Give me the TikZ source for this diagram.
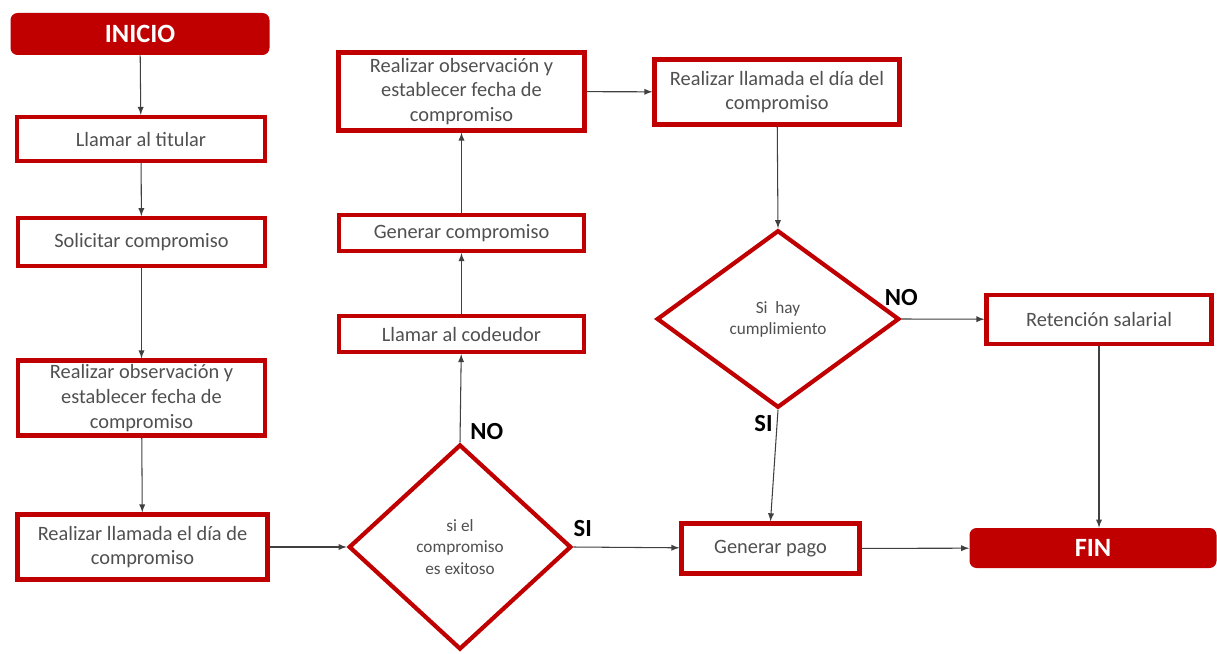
\documentclass[tikz,border=0pt]{standalone}
\usepackage{fontspec}
\setmainfont{Carlito}
\usepackage{tikz}
\usetikzlibrary{shapes,arrows,positioning,calc}
\definecolor{rojo}{RGB}{192,0,0}
\definecolor{gristxt}{RGB}{80,80,80}

\begin{document}
\begin{tikzpicture}[
  paso/.style={draw=rojo, line width=2.4pt, fill=white, text=gristxt,
             align=center, inner sep=2pt, font=\fontsize{11.6}{14}\selectfont},
  term/.style={fill=rojo, rounded corners=4pt, text=white,
             font=\fontsize{15}{17}\selectfont\bfseries},
  decision/.style={diamond, draw=rojo, line width=2.4pt, fill=white, text=gristxt,
             align=center, inner sep=0pt, font=\fontsize{9.8}{12}\selectfont},
  lbl/.style={font=\fontsize{14}{16}\selectfont\bfseries, inner sep=0pt},
  flecha/.style={-latex, black!75, line width=0.6pt}
]

% Margins
\useasboundingbox (0,0) rectangle (24.34,-13.08);

% ======= Columna izquierda =======
\node[term, minimum width=5.18cm, minimum height=0.84cm] (inicio) at (2.80,-0.68) {INICIO};
\node[paso, minimum width=4.95cm, minimum height=0.88cm] (titular) at (2.82,-2.78) {Llamar al titular};
\node[paso, minimum width=4.95cm, minimum height=0.95cm] (solicitar) at (2.83,-4.84) {Solicitar compromiso};
\node[paso, minimum width=4.95cm, minimum height=1.5cm] (obs1) at (2.83,-7.96)
  {Realizar observación y\\establecer fecha de\\compromiso};
\node[paso, minimum width=5.0cm, minimum height=1.3cm] (llamada1) at (2.85,-10.94)
  {Realizar llamada el día de\\compromiso};

% ======= Columna central =======
\node[decision, minimum width=4.45cm, minimum height=4.1cm] (dec1) at (9.20,-10.94)
  {si el\\compromiso\\es exitoso};
\node[paso, minimum width=4.9cm, minimum height=0.72cm] (codeudor) at (9.23,-6.68) {Llamar al codeudor};
\node[paso, minimum width=4.9cm, minimum height=0.72cm] (generar) at (9.23,-4.66) {Generar compromiso};
\node[paso, minimum width=4.92cm, minimum height=1.56cm] (obs2) at (9.23,-1.83)
  {Realizar observación y\\establecer fecha de\\compromiso};

% ======= Columna derecha =======
\node[paso, minimum width=4.9cm, minimum height=1.3cm] (llamada2) at (15.54,-1.84)
  {Realizar llamada el día del\\compromiso};
\node[decision, minimum width=4.85cm, minimum height=3.55cm] (dec2) at (15.56,-6.38)
  {Si\ \ hay\\cumplimiento};
\node[paso, minimum width=4.5cm, minimum height=0.98cm] (retencion) at (21.98,-6.39) {Retención salarial};
\node[paso, minimum width=3.56cm, minimum height=1.0cm] (pago) at (15.41,-10.97) {Generar pago};
\node[term, minimum width=4.94cm, minimum height=0.8cm] (fin) at (21.86,-10.96) {FIN};

% ======= Etiquetas =======
\node[lbl, above right=0.05cm and 0.2cm of dec1.north] (no1) {NO};
\node[lbl, above right=0.2cm and 0cm of dec1.east] (si1) {SI};
\node[lbl, above=0.25cm of dec2.east] (no2) {NO};
\node[lbl, below left=0.1cm and 0.1cm of dec2.south] (si2) {SI};

% ======= Conexiones =======
\draw[flecha] (inicio) -- (titular);
\draw[flecha] (titular) -- (solicitar);
\draw[flecha] (solicitar) -- (obs1);
\draw[flecha] (obs1) -- (llamada1);
\draw[flecha] (llamada1) -- (dec1.west);
\draw[flecha] (dec1.north) -- (codeudor);
\draw[flecha] (codeudor) -- (generar);
\draw[flecha] (generar) -- (obs2);
\draw[flecha] (obs2) -- (llamada2);
\draw[flecha] (llamada2) -- (dec2.north);
\draw[flecha] (dec2.east) -- (retencion);
\draw[flecha] (dec2.south) -- (pago.north);
\draw[flecha] (dec1.east) -- (pago);
\draw[flecha] (pago) -- (fin);
\draw[flecha] (retencion.south) -- (retencion.south |- fin.north);

\end{tikzpicture}
\end{document}
